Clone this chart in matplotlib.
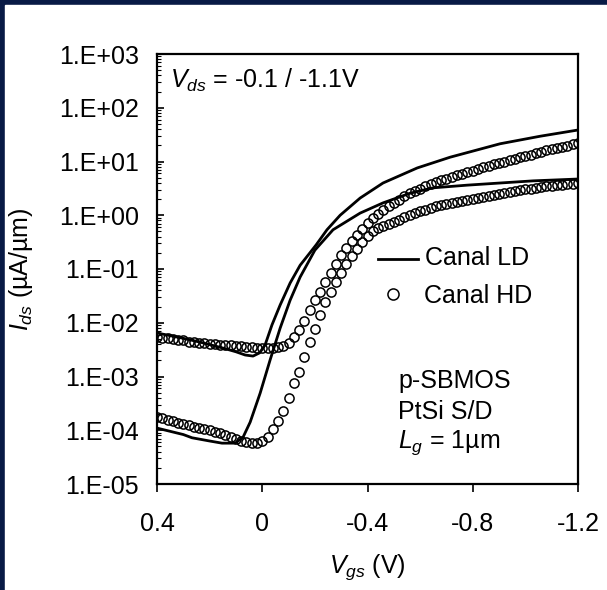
import numpy as np
import matplotlib
matplotlib.use('Agg')
import matplotlib.pyplot as plt
from matplotlib.patches import Rectangle
from matplotlib.lines import Line2D
from matplotlib.ticker import LogLocator, NullFormatter, FixedLocator, FixedFormatter

plt.rcParams['font.family'] = ['Liberation Sans', 'DejaVu Sans']
plt.rcParams['mathtext.fontset'] = 'custom'
plt.rcParams['mathtext.rm'] = 'Liberation Sans'
plt.rcParams['mathtext.it'] = 'Liberation Sans:italic'
plt.rcParams['axes.unicode_minus'] = False

# ---------------- data ----------------
# HD channel (circles), Vgs sweep 0.4 -> -1.2 V, 0.02 V step
vgs_hd = np.round(np.linspace(0.40, -1.20, 81), 2)
# log10(Ids [uA/um]) at Vds = -1.1 V
hd_vds11_log = [
    -2.265, -2.28, -2.29, -2.31, -2.32, -2.33, -2.35, -2.36, -2.375, -2.38,
    -2.39, -2.40, -2.41, -2.415, -2.42, -2.43, -2.44, -2.45, -2.46, -2.465,
    -2.47, -2.47, -2.47, -2.46, -2.43, -2.38, -2.26, -2.13, -1.96, -1.76,
    -1.58, -1.43, -1.25, -1.07, -0.90, -0.74, -0.60, -0.48, -0.36, -0.25,
    -0.14, -0.06, 0.02, 0.10, 0.17, 0.23, 0.29, 0.35, 0.405, 0.45,
    0.495, 0.54, 0.58, 0.615, 0.65, 0.68, 0.71, 0.74, 0.77, 0.80,
    0.83, 0.86, 0.89, 0.92, 0.95, 0.975, 1.00, 1.03, 1.055, 1.08,
    1.105, 1.13, 1.155, 1.18, 1.205, 1.23, 1.25, 1.275, 1.295, 1.32,
    1.34]
# log10(Ids) at Vds = -0.1 V
hd_vds01_log = [
    -3.75, -3.78, -3.80, -3.83, -3.86, -3.89, -3.91, -3.935, -3.96, -3.98,
    -4.00, -4.03, -4.05, -4.08, -4.12, -4.16, -4.20, -4.22, -4.235, -4.24,
    -4.20, -4.12, -3.98, -3.83, -3.65, -3.40, -3.13, -2.92, -2.63, -2.36,
    -2.12, -1.86, -1.62, -1.42, -1.25, -1.08, -0.91, -0.76, -0.62, -0.49,
    -0.38, -0.30, -0.24, -0.20, -0.16, -0.12, -0.08, -0.04, 0.00, 0.035,
    0.07, 0.10, 0.135, 0.165, 0.19, 0.21, 0.23, 0.25, 0.265, 0.28,
    0.30, 0.32, 0.34, 0.36, 0.38, 0.40, 0.42, 0.435, 0.45, 0.47,
    0.48, 0.495, 0.51, 0.52, 0.535, 0.55, 0.56, 0.57, 0.58, 0.59,
    0.60]

# LD channel (solid lines)
vgs_ld11 = [0.40, 0.30, 0.237, 0.15, 0.10, 0.065, 0.035, 0.01, -0.011, -0.037,
            -0.068, -0.106, -0.144, -0.205, -0.246, -0.296, -0.372, -0.459,
            -0.589, -0.714, -0.904, -1.056, -1.20]
ld_vds11_log = [-2.19, -2.29, -2.36, -2.47, -2.54, -2.60, -2.62, -2.56, -2.41, -2.04,
                -1.67, -1.26, -0.93, -0.55, -0.27, 0.0, 0.32, 0.60,
                0.88, 1.08, 1.33, 1.47, 1.586]
vgs_ld01 = [0.40, 0.30, 0.267, 0.20, 0.153, 0.103, 0.073, 0.046, 0.008, -0.03,
            -0.068, -0.106, -0.144, -0.20, -0.269, -0.372, -0.459, -0.562,
            -0.649, -0.779, -0.904, -1.03, -1.20]
ld_vds01_log = [-3.96, -4.08, -4.14, -4.20, -4.24, -4.24, -4.13, -3.85, -3.31, -2.69,
                -2.10, -1.58, -1.15, -0.65, -0.27, 0.04, 0.23, 0.41,
                0.51, 0.56, 0.60, 0.64, 0.674]

yticks = [1e-5, 1e-4, 1e-3, 1e-2, 1e-1, 1e0, 1e1, 1e2, 1e3]
ytick_labels = ['1.E-05', '1.E-04', '1.E-03', '1.E-02', '1.E-01',
                '1.E+00', '1.E+01', '1.E+02', '1.E+03']
xticks = [0.4, 0.0, -0.4, -0.8, -1.2]
xtick_labels = ['0.4', '0', '-0.4', '-0.8', '-1.2']

# ---------------- figure ----------------
W, H = 607, 590
fig = plt.figure(figsize=(W / 100, H / 100), dpi=100)

# slide-like background
bg = fig.add_axes([0, 0, 1, 1])
top_c = np.array([0.03, 0.10, 0.27])
bot_c = np.array([0.03, 0.20, 0.52])
t = np.linspace(0, 1, 256)[:, None]
grad = (top_c[None, :] * (1 - t) + bot_c[None, :] * t)[:, None, :]
bg.add_patch(Rectangle((0, 0), 1, 1, color=top_c))
bg.imshow(grad, extent=[0, 5 / W, 0, 1], aspect='auto', origin='upper')
bg.add_patch(Rectangle((5 / W, 0), 1, 1 - 5 / H, color='white', zorder=3))
bg.set_xlim(0, 1)
bg.set_ylim(0, 1)
bg.axis('off')

x0, x1, y0, y1 = 157, 578, 54, 484
ax = fig.add_axes([x0 / W, 1 - y1 / H, (x1 - x0) / W, (y1 - y0) / H])
ax.set_zorder(5)

ax.plot(vgs_ld11, 10 ** np.array(ld_vds11_log), color='black', lw=2.0)
ax.plot(vgs_ld01, 10 ** np.array(ld_vds01_log), color='black', lw=2.0)
ax.plot(vgs_hd, 10 ** np.array(hd_vds11_log), ls='none', marker='o', ms=6.6,
        mfc='none', mec='black', mew=1.1)
ax.plot(vgs_hd, 10 ** np.array(hd_vds01_log), ls='none', marker='o', ms=6.6,
        mfc='none', mec='black', mew=1.1)

ax.set_yscale('log')
ax.set_ylim(1e-5, 1e3)
ax.set_xlim(0.4, -1.2)

fs = 18
ax.yaxis.set_major_locator(FixedLocator(yticks))
ax.yaxis.set_major_formatter(FixedFormatter(ytick_labels))
ax.yaxis.set_minor_locator(LogLocator(base=10, subs=np.arange(2, 10), numticks=20))
ax.yaxis.set_minor_formatter(NullFormatter())
ax.set_xticks(xticks)
ax.set_xticklabels(xtick_labels)
ax.tick_params(axis='y', which='major', direction='in', length=5, width=1.2,
               labelsize=fs, pad=13)
ax.tick_params(axis='y', which='minor', direction='in', length=3, width=0.8)
ax.tick_params(axis='x', which='major', direction='out', length=6, width=1.2,
               labelsize=fs, pad=14)
for s in ax.spines.values():
    s.set_linewidth(1.6)

ax.set_xlabel('$V_{gs}$ (V)', fontsize=fs, labelpad=12)
ax.set_ylabel('$I_{ds}$ (\u00b5A/\u00b5m)', fontsize=fs, labelpad=17)

def fx(px):
    return px / W

def fy(py):
    return 1 - py / H

fig.text(fx(170), fy(80), '$V_{ds}$ = -0.1 / -1.1V', fontsize=fs, va='center', ha='left', zorder=10)

# legend (manual)
fig.add_artist(Line2D([fx(378), fx(418)], [fy(259), fy(259)], color='black', lw=2.0, zorder=10))
fig.text(fx(425), fy(258), 'Canal LD', fontsize=fs, va='center', ha='left', zorder=10)
fig.add_artist(Line2D([fx(393)], [fy(294)], ls='none', marker='o', ms=8,
                      mfc='none', mec='black', mew=1.1, zorder=10))
fig.text(fx(424), fy(296), 'Canal HD', fontsize=fs, va='center', ha='left', zorder=10)

fig.text(fx(398), fy(381), 'p-SBMOS', fontsize=fs, va='center', ha='left', zorder=10)
fig.text(fx(398), fy(412), 'PtSi S/D', fontsize=fs, va='center', ha='left', zorder=10)
fig.text(fx(398), fy(443), '$L_g$ = 1\u00b5m', fontsize=fs, va='center', ha='left', zorder=10)

fig.savefig('out.png', dpi=100)
